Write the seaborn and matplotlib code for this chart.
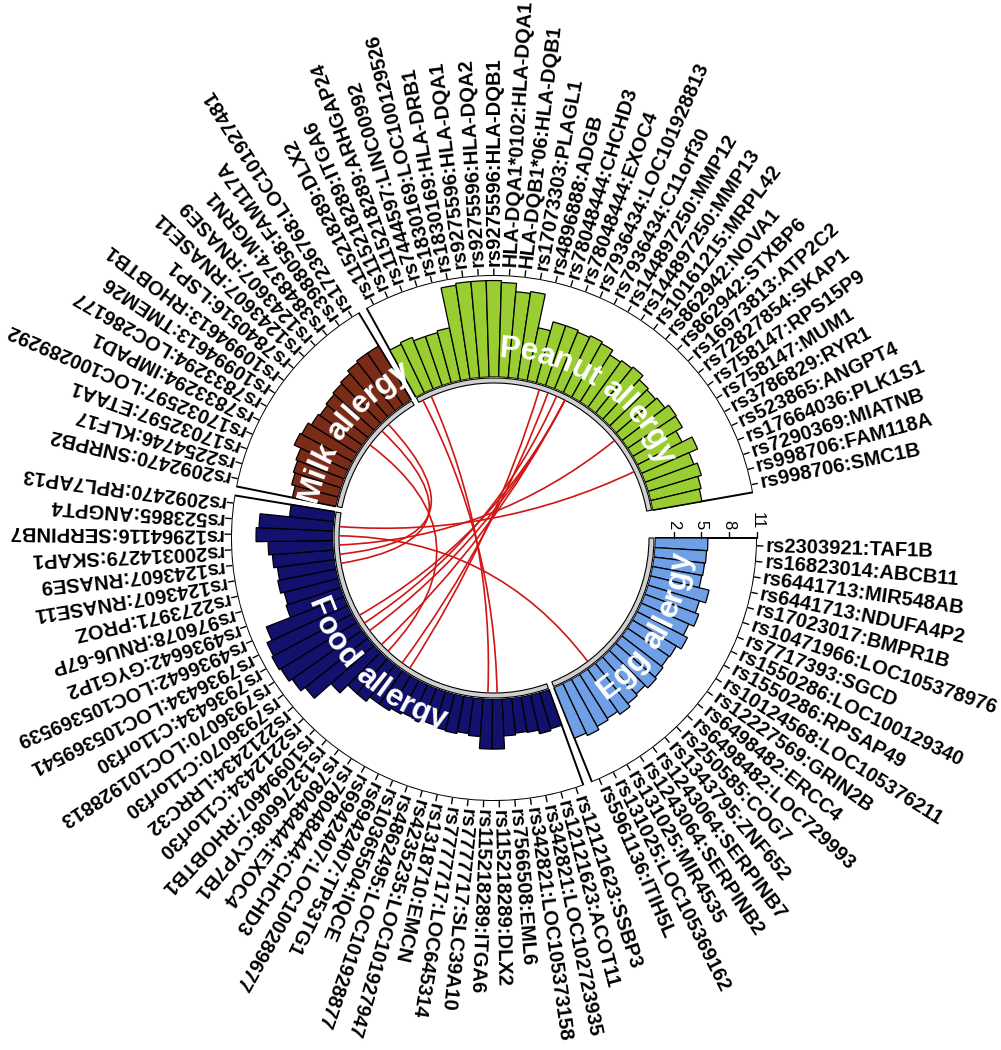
import numpy as np
import matplotlib
matplotlib.use("Agg")
import matplotlib.pyplot as plt
from matplotlib.patches import Wedge, PathPatch
from matplotlib.path import Path
from matplotlib.font_manager import FontProperties
from matplotlib.textpath import text_to_path
import seaborn as sns

sns.set_theme(style="white")
plt.rcParams["font.family"] = ["Liberation Sans", "DejaVu Sans"]
plt.rcParams["text.color"] = "black"

# ---------------- data (clockwise order inside each sector) ----------------
egg_labels = ["rs2303921:TAF1B", "rs16823014:ABCB11", "rs6441713:MIR548AB", "rs6441713:NDUFA4P2",
              "rs17023017:BMPR1B", "rs10471966:LOC105378976", "rs7717393:SGCD", "rs1550286:LOC100129340",
              "rs1550286:RPSAP49", "rs10124568:LOC105376211", "rs12227569:GRIN2B", "rs6498482:ERCC4",
              "rs6498482:LOC729993", "rs250585:COG7", "rs1343795:ZNF652", "rs1243064:SERPINB7",
              "rs1243064:SERPINB2", "rs131025:MIR4535", "rs131025:LOC105369162", "rs5961136:ITIH5L"]
egg_values = [5.7, 5.6, 5.5, 5.4, 6.5, 5.8, 6.2, 5.6, 6.1, 5.5, 5.4, 5.6, 5.8, 5.4, 5.6, 6.0,
              5.6, 5.8, 6.2, 5.9]

food_labels = ["rs12121623:SSBP3", "rs12121623:ACOT11", "rs342821:LOC102723935", "rs342821:LOC105373158",
               "rs7566508:EML6", "rs115218289:DLX2", "rs115218289:ITGA6", "rs7777717:SLC39A10",
               "rs7777717:LOC645314", "rs1318710:EMCN", "rs4235235:LOC101927947", "rs4862495:LOC101928877",
               "rs10365504:IQCE", "rs6942407:TP53TG1", "rs6942407:LOC100289677", "rs78048444:CHCHD3",
               "rs78048444:EXOC4", "rs13276608:CYP7B1", "rs10994607:RHOBTB1", "rs2212434:C11orf30",
               "rs2212434:LRRC32", "rs7936070:C11orf30", "rs7936070:LOC101928813", "rs7936434:C11orf30",
               "rs7936434:LOC105369541", "rs4936642:LOC105369539", "rs4936642:GYG1P2", "rs976078:RNU6-67P",
               "rs2273971:PROZ", "rs1243607:RNASE11", "rs1243607:RNASE9", "rs200314279:SKAP1",
               "rs12964116:SERPINB7", "rs523865:ANGPT4", "rs2092470:RPL7AP13"]
food_values = [4.1, 4.3, 3.9, 3.8, 4.0, 5.4, 5.4, 4.1, 3.9, 4.1, 4.0, 3.8, 4.1, 3.9, 4.1, 4.4,
               4.4, 5.0, 5.0, 6.2, 8.6, 9.2, 9.6, 9.8, 9.6, 9.0, 6.2, 6.0, 6.4, 6.2, 6.6, 7.0,
               8.3, 8.0, 4.8]

milk_labels = ["rs2092470:SNRPB2", "rs2254746:KLF17", "rs17032597:ETAA1", "rs17032597:LOC100289292",
               "rs7833294:IMPAD1", "rs7833294:LOC286177", "rs10994613:TMEM26", "rs10994613:RHOBTB1",
               "rs7840516:LSP1", "rs1243607:RNASE11", "rs1243607:RNASE9", "rs3848374:MGRN1",
               "rs3988058:FAM117A", "rs17236768:LOC101927481"]
milk_values = [4.8, 5.2, 5.4, 5.6, 6.4, 6.2, 5.8, 5.6, 5.8, 6.0, 6.2, 6.6, 6.8, 6.8]

peanut_labels = ["rs115218289:DLX2", "rs115218289:ITGA6", "rs115218289:ARHGAP24", "rs7444597:LINC00992",
                 "rs1830169:LOC100129526", "rs1830169:HLA-DRB1", "rs9275596:HLA-DQA1", "rs9275596:HLA-DQA2",
                 "rs9275596:HLA-DQB1", "HLA-DQA1*0102:HLA-DQA1", "HLA-DQB1*06:HLA-DQB1", "rs17073303:PLAGL1",
                 "rs4896888:ADGB", "rs78048444:CHCHD3", "rs78048444:EXOC4", "rs7936434:LOC101928813",
                 "rs7936434:C11orf30", "rs144897250:MMP12", "rs144897250:MMP13", "rs10161215:MRPL42",
                 "rs862942:NOVA1", "rs862942:STXBP6", "rs16973813:ATP2C2", "rs72827854:SKAP1",
                 "rs758147:RPS15P9", "rs758147:MUM1", "rs3786829:RYR1", "rs523865:ANGPT4",
                 "rs17664036:PLK1S1", "rs7290369:MIATNB", "rs998706:FAM118A", "rs998706:SMC1B"]
peanut_values = [5.8, 6.0, 5.6, 5.6, 5.8, 10.2, 10.4, 10.4, 10.4, 10.2, 9.3, 9.5, 5.8, 6.8, 6.8, 6.6,
                 6.8, 6.6, 6.0, 6.2, 6.4, 5.8, 5.6, 5.8, 6.3, 6.2, 5.4, 6.6, 5.6, 6.0, 5.6, 5.4]

sector_names = ["Egg allergy", "Food allergy", "Milk allergy", "Peanut allergy"]
sector_labels = [egg_labels, food_labels, milk_labels, peanut_labels]
sector_values = [egg_values, food_values, milk_values, peanut_values]
sector_colors = ["#6f9fe6", "#12126e", "#7a2c18", "#9acd32"]
axis_ticks = [2, 5, 8, 11]

# ---------------- geometry (pixels) ----------------
W, H = 1001, 1050
CX, CY = 494, 538
R_TOP = 263          # radius of value 11
R_BASE = 161         # radius of value 0
YMAX = 11
RORIG = -R_BASE * YMAX / (R_TOP - R_BASE)
GAP, LAST_GAP = 2.0, 10.0

n_total = sum(len(l) for l in sector_labels)
step = (360 - GAP * 3 - LAST_GAP) / n_total
starts = []
a = 0.0
for labs in sector_labels:
    starts.append(a)
    a += len(labs) * step + GAP


def val2px(v):
    return (v - RORIG) / (YMAX - RORIG) * R_TOP


def ang(si, i):
    return starts[si] + (i + 0.5) * step


fig = plt.figure(figsize=(W / 100, H / 100), dpi=100)

ax = fig.add_axes([(CX - R_TOP) / W, (H - CY - R_TOP) / H, 2 * R_TOP / W, 2 * R_TOP / H],
                  projection="polar")
ax.set_theta_zero_location("E")
ax.set_theta_direction(-1)
ax.set_ylim(0, YMAX)
ax.set_rorigin(RORIG)
ax.axis("off")
ax.patch.set_alpha(0)
ax.set_zorder(1)

ax2 = fig.add_axes([0, 0, 1, 1])
ax2.set_xlim(0, W)
ax2.set_ylim(H, 0)
ax2.axis("off")
ax2.patch.set_alpha(0)
ax2.set_zorder(2)

for si, (labs, vals, col) in enumerate(zip(sector_labels, sector_values, sector_colors)):
    n = len(labs)
    span = n * step
    ax.bar(np.deg2rad(starts[si] + span / 2), YMAX, width=np.deg2rad(span), bottom=0,
           facecolor="white", edgecolor="black", linewidth=1.4, zorder=1)
    th = np.deg2rad([ang(si, i) for i in range(n)])
    ax.bar(th, vals, width=np.deg2rad(step), bottom=0, color=col,
           edgecolor="black", linewidth=0.9, zorder=2)
    ax.vlines(th, YMAX, YMAX + 0.7, color="black", linewidth=1.0, clip_on=False)
    for t, lab in zip(th, labs):
        ax.text(t, YMAX + 0.95, lab, rotation=(-np.rad2deg(t)) % 360, rotation_mode="anchor",
                ha="left", va="center", fontsize=14.5, fontweight="bold", color="black",
                clip_on=False)
    # thin inner ring
    ax2.add_patch(Wedge((CX, CY), R_BASE - 1, starts[si], starts[si] + span, width=5,
                        facecolor="#d0d0d0", edgecolor="black", linewidth=0.8))

# y axis on the left side of the first sector
for v in axis_ticks:
    x = CX + val2px(v)
    ax2.plot([x, x], [CY, CY - 6], color="black", lw=1)
    ax2.text(x, CY - 9, str(v), rotation=270, ha="center", va="bottom", fontsize=12,
             color="black")

# ---------------- links between identical genes ----------------
R_LINK = R_BASE - 6
for s1 in range(4):
    for s2 in range(s1 + 1, 4):
        for i, l1 in enumerate(sector_labels[s1]):
            for j, l2 in enumerate(sector_labels[s2]):
                if l1.split(":")[1] != l2.split(":")[1]:
                    continue
                a1, a2 = np.deg2rad(ang(s1, i)), np.deg2rad(ang(s2, j))
                p1 = (CX + R_LINK * np.cos(a1), CY + R_LINK * np.sin(a1))
                p2 = (CX + R_LINK * np.cos(a2), CY + R_LINK * np.sin(a2))
                path = Path([p1, (CX, CY), p2], [Path.MOVETO, Path.CURVE3, Path.CURVE3])
                ax2.add_patch(PathPatch(path, facecolor="none", edgecolor="#d01515", lw=1.2))

# ---------------- curved sector titles ----------------
title_angles = [30, 133, 217, 304]
R_TITLE = 189
fp = FontProperties(family="Liberation Sans", weight="bold", size=22.5)


def tw(s):
    return text_to_path.get_text_width_height_descent(s, fp, ismath=False)[0] * 100 / 72


for si, name in enumerate(sector_names):
    total = tw(name)
    inside = si >= 2
    for k, ch in enumerate(name):
        xc = tw(name[:k + 1]) - tw(ch) / 2 - total / 2
        d = np.rad2deg(xc / R_TITLE)
        a_deg = title_angles[si] + d if inside else title_angles[si] - d
        rot = (-a_deg - 90) if inside else (-a_deg + 90)
        ar = np.deg2rad(a_deg)
        ax2.text(CX + R_TITLE * np.cos(ar), CY + R_TITLE * np.sin(ar), ch, rotation=rot,
                 rotation_mode="anchor", ha="center", va="center", color="white",
                 fontproperties=fp, zorder=5)

fig.savefig("out.png", dpi=100)
